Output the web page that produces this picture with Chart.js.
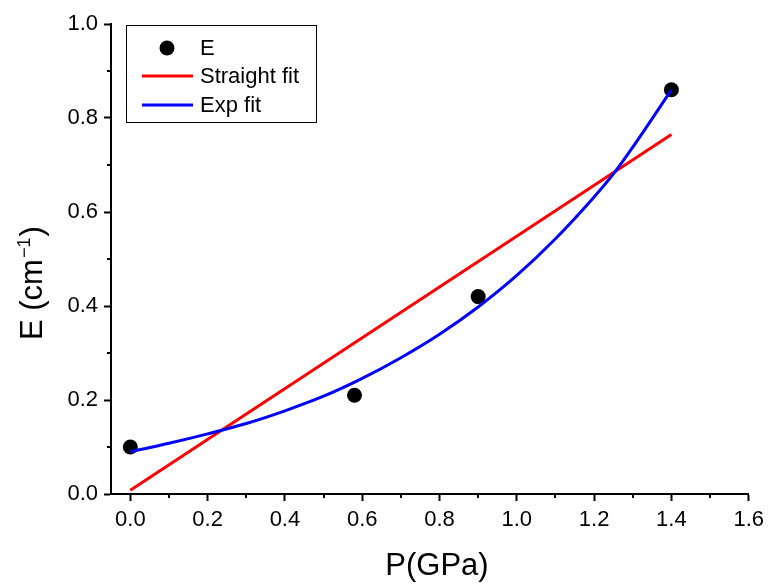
<!DOCTYPE html>
<html>
<head>
<meta charset="utf-8">
<script src="https://cdn.jsdelivr.net/npm/chart.js@4.4.1/dist/chart.umd.min.js"></script>
<style>
  body { margin: 0; background: #fff; }
  #wrap { width: 770px; height: 584px; }
</style>
</head>
<body>
<div id="wrap"><canvas id="myChart" width="770" height="584"></canvas></div>
<script>
// measured points
var eP = [0, 0.58, 0.9, 1.4];
var eVals = [0.10, 0.21, 0.42, 0.86];

// linear fit
var straightP = [0, 1.4];
var straightVals = [0.008, 0.765];

// exponential fit curve
var expP = [0, 0.1, 0.2, 0.3, 0.4, 0.5, 0.6, 0.7, 0.8, 0.9, 1.0, 1.1, 1.2, 1.25, 1.3, 1.4];
var expVals = [0.090, 0.108, 0.128, 0.150, 0.177, 0.208, 0.246, 0.290, 0.340, 0.398, 0.465, 0.543, 0.632, 0.681, 0.738, 0.860];

var xMinor = [0.1, 0.3, 0.5, 0.7, 0.9, 1.1, 1.3, 1.5];
var yMinor = [0.1, 0.3, 0.5, 0.7, 0.9];

function toXY(xs, ys) {
  var out = [];
  for (var i = 0; i < xs.length; i++) out.push({ x: xs[i], y: ys[i] });
  return out;
}

var FONT = "'Liberation Sans', Arial, sans-serif";
Chart.defaults.font.family = FONT;
Chart.defaults.color = '#000';

// minor ticks, axis titles and the boxed legend
var extras = {
  id: 'extras',
  afterDraw: function (chart) {
    var ctx = chart.ctx;
    var xs = chart.scales.x, ys = chart.scales.y;
    var area = chart.chartArea;
    ctx.save();
    ctx.strokeStyle = '#000';
    ctx.lineWidth = 2;
    ctx.beginPath();
    xMinor.forEach(function (v) {
      var px = Math.round(xs.getPixelForValue(v));
      ctx.moveTo(px, area.bottom);
      ctx.lineTo(px, area.bottom + 4);
    });
    yMinor.forEach(function (v) {
      var py = Math.round(ys.getPixelForValue(v));
      ctx.moveTo(area.left, py);
      ctx.lineTo(area.left - 4, py);
    });
    ctx.stroke();

    // x title
    ctx.fillStyle = '#000';
    ctx.font = '31px ' + FONT;
    ctx.textAlign = 'center';
    ctx.textBaseline = 'alphabetic';
    ctx.fillText('P(GPa)', 437, 575);

    // y title with superscript
    ctx.save();
    ctx.translate(42, 340);
    ctx.rotate(-Math.PI / 2);
    ctx.textAlign = 'left';
    ctx.font = '31px ' + FONT;
    var t1 = 'E (cm';
    ctx.fillText(t1, 0, 0);
    var w = ctx.measureText(t1).width;
    ctx.font = '18px ' + FONT;
    var sup = '\u22121';
    ctx.fillText(sup, w + 1, -12);
    w += ctx.measureText(sup).width + 2;
    ctx.font = '31px ' + FONT;
    ctx.fillText(')', w, 0);
    ctx.restore();

    // legend
    ctx.lineWidth = 1;
    ctx.strokeStyle = '#000';
    ctx.strokeRect(126.5, 25.5, 190, 97);
    var rows = [48, 76, 105];
    ctx.font = '22px ' + FONT;
    ctx.textAlign = 'left';
    ctx.textBaseline = 'middle';
    chart.data.datasets.forEach(function (ds, i) {
      var cy = rows[i];
      if (ds.showLine === false) {
        ctx.fillStyle = ds.backgroundColor;
        ctx.beginPath();
        ctx.arc(167, cy, ds.pointRadius, 0, Math.PI * 2);
        ctx.fill();
      } else {
        ctx.strokeStyle = ds.borderColor;
        ctx.lineWidth = ds.borderWidth;
        ctx.beginPath();
        ctx.moveTo(142, cy);
        ctx.lineTo(193, cy);
        ctx.stroke();
      }
      ctx.fillStyle = '#000';
      ctx.fillText(ds.label, 200, cy + 1);
    });
    ctx.restore();
  }
};

new Chart(document.getElementById('myChart').getContext('2d'), {
  type: 'scatter',
  data: {
    datasets: [
      {
        label: 'E',
        data: toXY(eP, eVals),
        showLine: false,
        pointRadius: 7.5,
        pointBorderWidth: 0,
        backgroundColor: '#000',
        borderColor: '#000',
        order: 3
      },
      {
        label: 'Straight fit',
        data: toXY(straightP, straightVals),
        showLine: true,
        pointRadius: 0,
        borderColor: '#ff0000',
        borderWidth: 3,
        order: 2
      },
      {
        label: 'Exp fit',
        data: toXY(expP, expVals),
        showLine: true,
        pointRadius: 0,
        borderColor: '#0000ff',
        borderWidth: 3,
        cubicInterpolationMode: 'monotone',
        order: 1
      }
    ]
  },
  options: {
    responsive: false,
    animation: false,
    events: [],
    layout: { padding: { top: 24, right: 18, left: 0, bottom: 0 } },
    plugins: {
      legend: { display: false },
      tooltip: { enabled: false }
    },
    scales: {
      x: {
        type: 'linear',
        min: -0.05,
        max: 1.6,
        afterFit: function (s) { s.height = 90; },
        afterBuildTicks: function (s) {
          s.ticks = [0, 0.2, 0.4, 0.6, 0.8, 1.0, 1.2, 1.4, 1.6].map(function (v) { return { value: v }; });
        },
        ticks: {
          font: { size: 22 },
          padding: 6,
          maxRotation: 0,
          callback: function (v) { return v.toFixed(1); }
        },
        grid: { drawOnChartArea: false, tickLength: 7, tickWidth: 2, tickColor: '#000' },
        border: { color: '#000', width: 2 }
      },
      y: {
        min: 0,
        max: 1.0,
        afterFit: function (s) { s.width = 111; },
        ticks: {
          font: { size: 22 },
          stepSize: 0.2,
          padding: 6,
          callback: function (v) { return v.toFixed(1); }
        },
        grid: { drawOnChartArea: false, tickLength: 7, tickWidth: 2, tickColor: '#000' },
        border: { color: '#000', width: 2 }
      }
    }
  },
  plugins: [extras]
});
</script>
</body>
</html>
